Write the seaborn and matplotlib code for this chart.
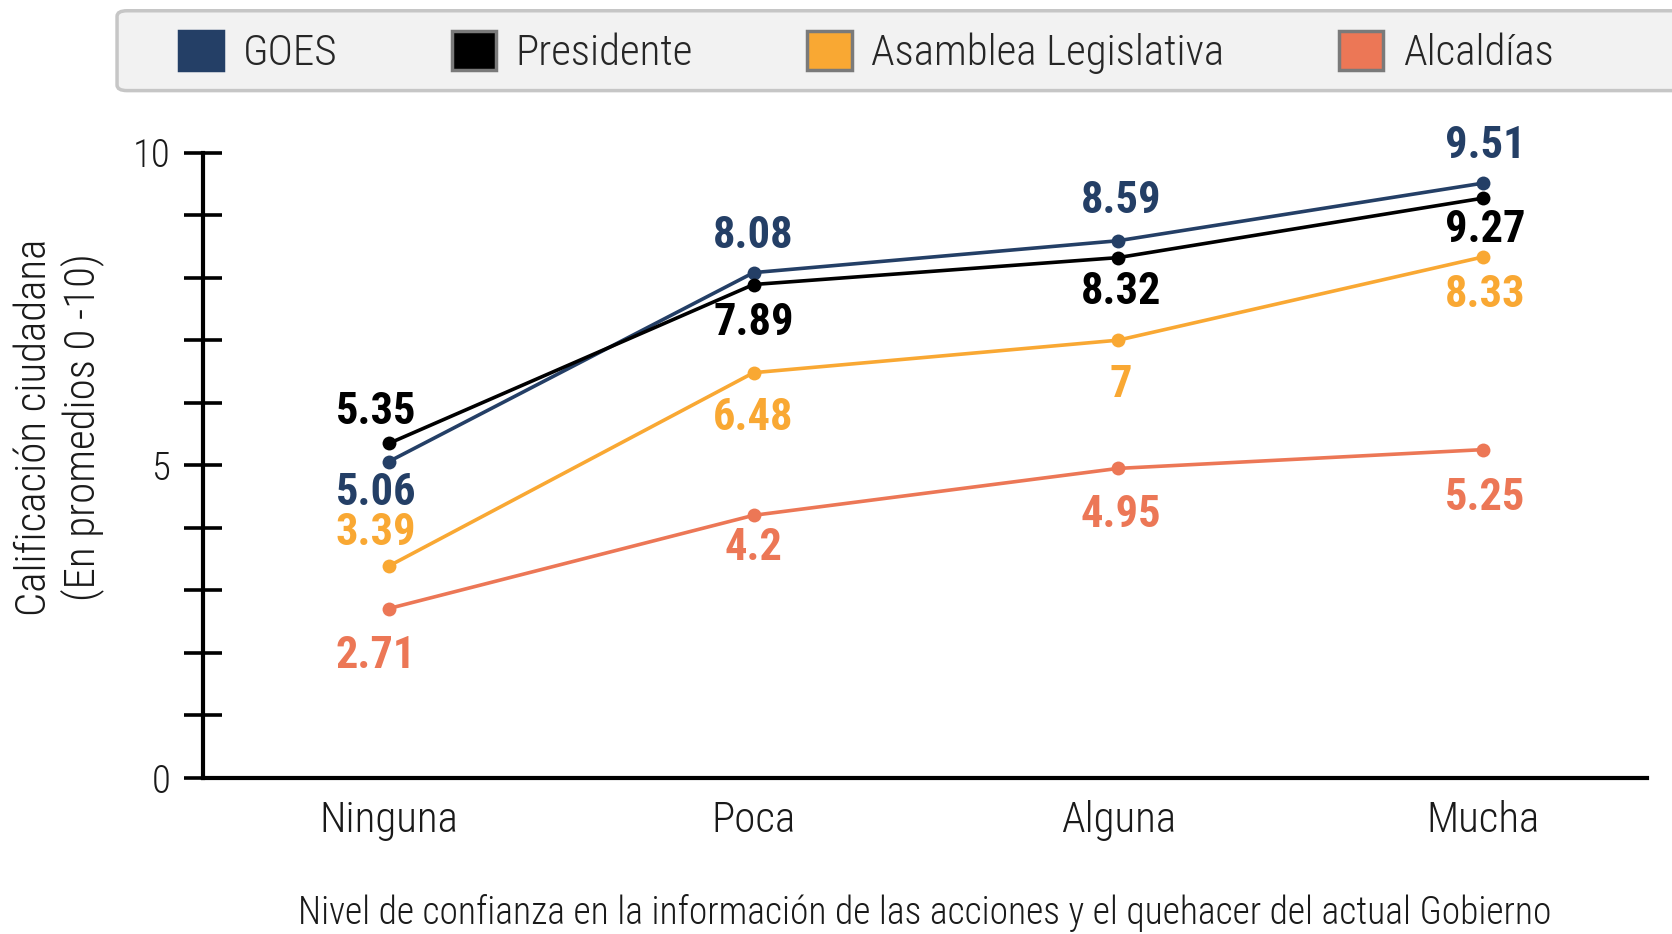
import matplotlib
matplotlib.use("Agg")
import matplotlib.pyplot as plt
import seaborn as sns
import pandas as pd
from matplotlib.patches import Patch, FancyBboxPatch
from matplotlib.ticker import MultipleLocator

# Data
niveles = ["Ninguna", "Poca", "Alguna", "Mucha"]
series = ["GOES", "Presidente", "Asamblea Legislativa", "Alcaldías"]
goes = [5.06, 8.08, 8.59, 9.51]
presidente = [5.35, 7.89, 8.32, 9.27]
asamblea = [3.39, 6.48, 7.00, 8.33]
alcaldias = [2.71, 4.20, 4.95, 5.25]

colores = ["#243f66", "#000000", "#f9a833", "#ec7756"]
bordes_leyenda = ["#243f66", "#7a7a7a", "#7a7a7a", "#7a7a7a"]

# vertical label offsets (pixels) for each point: negative = below
desplaz_y = {
    "GOES": [-31, 37, 40, 37],
    "Presidente": [31, -38, -34, -32],
    "Asamblea Legislativa": [33, -45, -45, -38],
    "Alcaldías": [-47, -33, -47, -48],
}
desplaz_x = [-13, 0, 3, 2]

valores = [goes, presidente, asamblea, alcaldias]
df = pd.DataFrame({
    "x": [i for _ in series for i in range(len(niveles))],
    "valor": [v for vals in valores for v in vals],
    "serie": [s for s in series for _ in niveles],
})

sns.set_theme(style="white")
plt.rcParams["font.family"] = ["Roboto Condensed", "DejaVu Sans"]
LIGHT = "light"

fig = plt.figure(figsize=(16.72, 9.34), dpi=100)
ax = fig.add_axes([0.1214, 0.167, 0.8636, 0.6697])

sns.lineplot(data=df, x="x", y="valor", hue="serie", hue_order=series,
             palette=colores, marker="o", markersize=10, markeredgewidth=0,
             linewidth=2.6, sort=False, legend=False, ax=ax)

for s, vals, c in zip(series, valores, colores):
    for i, v in enumerate(vals):
        ax.annotate(f"{v:g}", (i, v), xytext=(desplaz_x[i], desplaz_y[s][i]),
                    textcoords="offset pixels", ha="center", va="center",
                    fontsize=32, fontweight="bold", color=c,
                    annotation_clip=False)

ax.set_xlim(-0.51, 3.45)
ax.set_ylim(0, 10)
ax.set_xticks(range(len(niveles)))
ax.set_xticklabels(niveles)
ax.yaxis.set_major_locator(MultipleLocator(5))
ax.yaxis.set_minor_locator(MultipleLocator(1))

for side in ["top", "right"]:
    ax.spines[side].set_visible(False)
for side in ["left", "bottom"]:
    ax.spines[side].set_linewidth(3)
    ax.spines[side].set_color("black")

ax.tick_params(axis="y", which="both", direction="inout", length=27,
               width=2.6, color="black", left=True, pad=10,
               labelsize=28)
ax.tick_params(axis="x", which="both", length=0, pad=16, labelsize=31)
for lbl in ax.get_yticklabels() + ax.get_xticklabels():
    lbl.set_color("#1a1a1a")
    lbl.set_fontweight(LIGHT)

ax.set_xlabel("Nivel de confianza en la información de las acciones y el quehacer del actual Gobierno",
              fontsize=27, fontweight=LIGHT, labelpad=38, color="#1a1a1a")
ax.set_ylabel("")
fig.text(0.035, 0.543, "Calificación ciudadana\n(En promedios 0 -10)",
         rotation=90, ha="center", va="center", multialignment="center",
         fontsize=31, fontweight=LIGHT, color="#1a1a1a", linespacing=1.15)

# Legend band
fig.patches.append(FancyBboxPatch((0.070, 0.903), 0.96, 0.0855,
                                  boxstyle="round,pad=0,rounding_size=0.006",
                                  transform=fig.transFigure,
                                  facecolor="#f2f2f2", edgecolor="#c6c6c6",
                                  linewidth=2.5))
handles = [Patch(facecolor=c, edgecolor=e, linewidth=2.5, label=s)
           for s, c, e in zip(series, colores, bordes_leyenda)]
fig.legend(handles=handles, loc="center left", bbox_to_anchor=(0.107, 0.944),
           ncol=4, frameon=False, handlelength=1.03,
           handleheight=1.03, handletextpad=0.46, columnspacing=2.65,
           borderaxespad=0, borderpad=0, prop={"size": 31, "weight": LIGHT})

fig.savefig("out.png", dpi=100)
